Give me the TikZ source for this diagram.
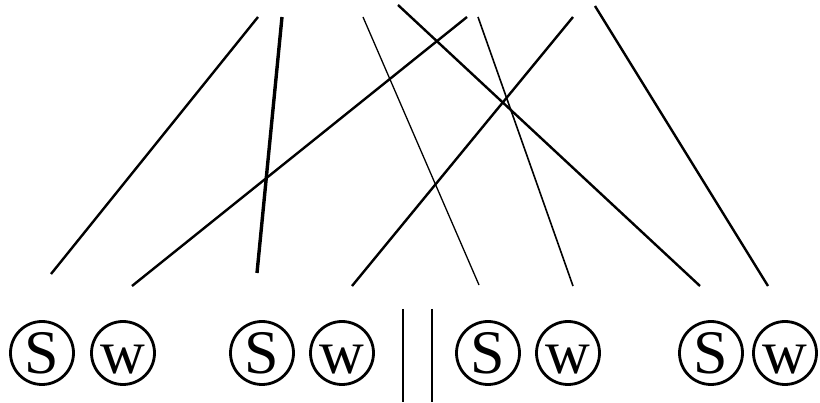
\documentclass[tikz,border=0pt]{standalone}
\usepackage{fontspec}
\setmainfont{Liberation Serif}
\usetikzlibrary{positioning}

\begin{document}
\begin{tikzpicture}[
  x=1pt, y=-1pt,
  letter/.style={draw, circle, line width=2.8pt, minimum size=63pt, inner sep=0pt,
    font=\fontsize{62}{62}\selectfont, text height=41pt, text depth=0pt},
  strand/.style={line width=2.4pt},
  heavy/.style={line width=3.4pt},
  fine/.style={line width=1.3pt},
  divider/.style={line width=1.1pt}
]
  \useasboundingbox (0,0) rectangle (820,403);

  % crossing strands
  \foreach \xa/\ya/\xb/\yb in {258/17/51/274, 398/5/700/286, 467/17/132/286, 573/17/352/286, 595/6/768/286} {
    \draw[strand] (\xa,\ya) -- (\xb,\yb);
  }
  \draw[heavy] (282,17) -- (257,273);
  \draw[fine] (363,17) -- (479,285);
  \draw[fine, line width=1.6pt] (478,17) -- (573,286);

  % S / w pairs
  \foreach \x/\name/\txt in {42/s1/S, 123/w1/w, 262/s2/S, 342/w2/w, 488/s3/S, 568/w3/w, 711/s4/S, 785/w4/w} {
    \node[letter] (\name) at (\x,353) {\txt};
  }

  % separator
  \coordinate (sepTopA) at (403,309);
  \coordinate (sepTopB) at (432,309);
  \draw[divider] (sepTopA) -- ++(0,93);
  \draw[divider] (sepTopB) -- ++(0,93);

\end{tikzpicture}
\end{document}
